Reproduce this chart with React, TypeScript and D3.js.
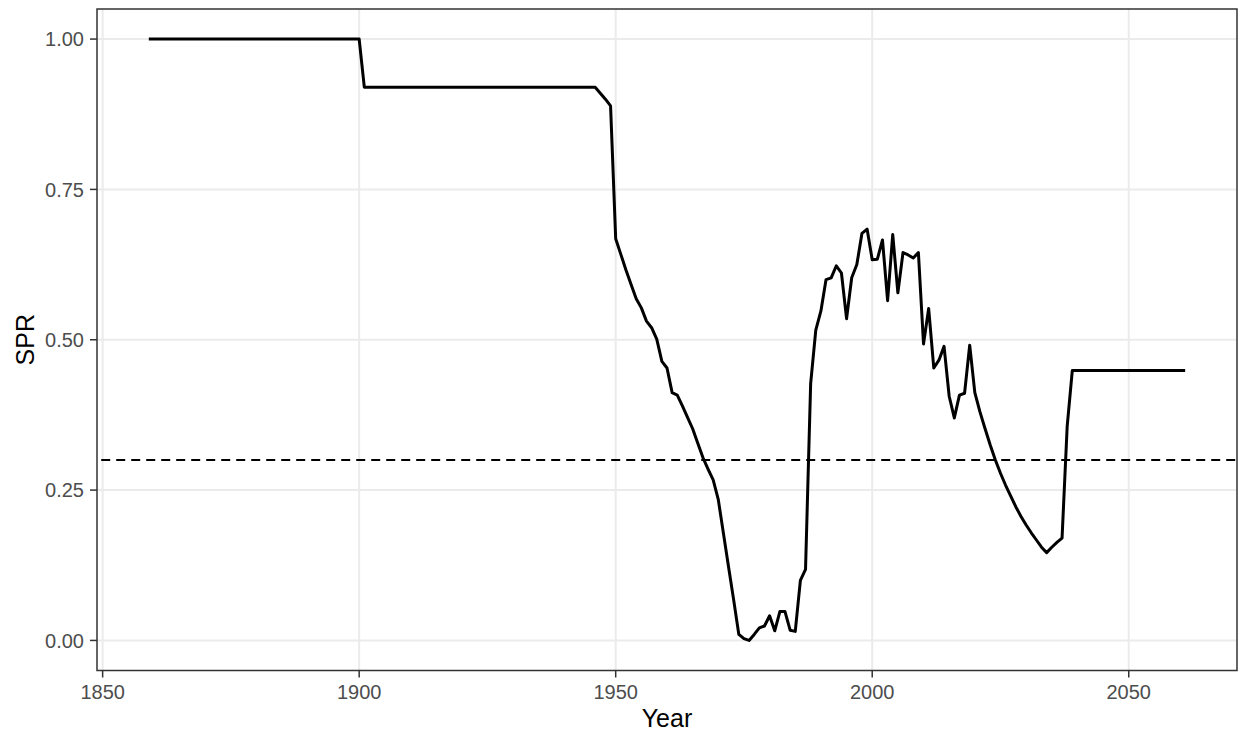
import React from "react";
import * as d3 from "d3";

// ---- data ----
const startYear = 1859;
const spr: number[] = [
  // 1859-1900
  1, 1, 1, 1, 1, 1, 1, 1, 1, 1,
  1, 1, 1, 1, 1, 1, 1, 1, 1, 1,
  1, 1, 1, 1, 1, 1, 1, 1, 1, 1,
  1, 1, 1, 1, 1, 1, 1, 1, 1, 1,
  1, 1,
  // 1901-1946
  0.92, 0.92, 0.92, 0.92, 0.92, 0.92, 0.92, 0.92, 0.92, 0.92,
  0.92, 0.92, 0.92, 0.92, 0.92, 0.92, 0.92, 0.92, 0.92, 0.92,
  0.92, 0.92, 0.92, 0.92, 0.92, 0.92, 0.92, 0.92, 0.92, 0.92,
  0.92, 0.92, 0.92, 0.92, 0.92, 0.92, 0.92, 0.92, 0.92, 0.92,
  0.92, 0.92, 0.92, 0.92, 0.92, 0.92,
  // 1947-1960
  0.91, 0.9, 0.889, 0.668, 0.642, 0.616, 0.592, 0.568, 0.553, 0.531,
  0.52, 0.501, 0.464, 0.453,
  // 1961-1980
  0.412, 0.408, 0.39, 0.371, 0.352, 0.328, 0.304, 0.285, 0.267, 0.234,
  0.178, 0.122, 0.067, 0.01, 0.003, 0.0, 0.01, 0.021, 0.024, 0.041,
  // 1981-2000
  0.016, 0.048, 0.048, 0.017, 0.015, 0.1, 0.118, 0.427, 0.516, 0.548,
  0.6, 0.603, 0.623, 0.611, 0.535, 0.603, 0.625, 0.677, 0.684, 0.633,
  // 2001-2020
  0.634, 0.666, 0.565, 0.675, 0.578, 0.645, 0.641, 0.636, 0.645, 0.493,
  0.552, 0.453, 0.466, 0.489, 0.406, 0.37, 0.408, 0.411, 0.491, 0.412,
  // 2021-2039
  0.38, 0.352, 0.325, 0.3, 0.278, 0.258, 0.24, 0.222, 0.206, 0.192,
  0.179, 0.167, 0.155, 0.146, 0.155, 0.163, 0.17, 0.356, 0.449,
  // 2040-2061
  0.449, 0.449, 0.449, 0.449, 0.449, 0.449, 0.449, 0.449, 0.449, 0.449,
  0.449, 0.449, 0.449, 0.449, 0.449, 0.449, 0.449, 0.449, 0.449, 0.449,
  0.449, 0.449,
];
const refLevel = 0.3;
const xTicks = [1850, 1900, 1950, 2000, 2050];
const yTicks = [0, 0.25, 0.5, 0.75, 1.0];
const xTitle = "Year";
const yTitle = "SPR";

const W = 1238;
const H = 734;
const panel = { left: 97, right: 1237, top: 9, bottom: 670.5 };

export default function App() {
  const data = spr.map((v, i) => ({ year: startYear + i, v }));
  const [x0, x1] = d3.extent(data, (d) => d.year) as [number, number];
  const [y0, y1] = d3.extent(data, (d) => d.v) as [number, number];
  const xPad = (x1 - x0) * 0.05;
  const yPad = (y1 - y0) * 0.05;
  const x = d3.scaleLinear().domain([x0 - xPad, x1 + xPad]).range([panel.left, panel.right]);
  const y = d3.scaleLinear().domain([y0 - yPad, y1 + yPad]).range([panel.bottom, panel.top]);
  const line = d3
    .line<{ year: number; v: number }>()
    .x((d) => x(d.year))
    .y((d) => y(d.v));

  const tickColor = "#333333";
  const labelColor = "#4D4D4D";
  const font = "'Liberation Sans', Arial, Helvetica, sans-serif";

  return (
    <svg
      width={W}
      height={H}
      style={{ position: "absolute", left: 0, top: 0, background: "#fff" }}
      fontFamily={font}
    >
      <rect x={0} y={0} width={W} height={H} fill="#fff" />
      {/* grid */}
      {yTicks.map((t) => (
        <line key={"gy" + t} x1={panel.left} x2={panel.right} y1={y(t)} y2={y(t)} stroke="#EBEBEB" strokeWidth={2} />
      ))}
      {xTicks.map((t) => (
        <line key={"gx" + t} x1={x(t)} x2={x(t)} y1={panel.top} y2={panel.bottom} stroke="#EBEBEB" strokeWidth={2} />
      ))}
      {/* reference line */}
      <line
        x1={panel.left}
        x2={panel.right}
        y1={y(refLevel)}
        y2={y(refLevel)}
        stroke="#000"
        strokeWidth={2.2}
        strokeDasharray="9,6"
        strokeDashoffset={10.8}
      />
      {/* data line */}
      <path d={line(data) || ""} fill="none" stroke="#000" strokeWidth={3} strokeLinejoin="round" />
      {/* panel border */}
      <rect
        x={panel.left}
        y={panel.top}
        width={panel.right - panel.left}
        height={panel.bottom - panel.top}
        fill="none"
        stroke={tickColor}
        strokeWidth={1.5}
      />
      {/* y axis */}
      {yTicks.map((t) => (
        <g key={"yt" + t}>
          <line x1={panel.left - 7} x2={panel.left} y1={y(t)} y2={y(t)} stroke={tickColor} strokeWidth={1.5} />
          <text x={84} y={y(t)} dy="0.36em" textAnchor="end" fontSize={20} fill={labelColor}>
            {t.toFixed(2)}
          </text>
        </g>
      ))}
      {/* x axis */}
      {xTicks.map((t) => (
        <g key={"xt" + t}>
          <line x1={x(t)} x2={x(t)} y1={panel.bottom} y2={panel.bottom + 7} stroke={tickColor} strokeWidth={1.5} />
          <text x={x(t)} y={699} textAnchor="middle" fontSize={20} fill={labelColor}>
            {t}
          </text>
        </g>
      ))}
      <text x={(panel.left + panel.right) / 2} y={727} textAnchor="middle" fontSize={25} fill="#000">
        {xTitle}
      </text>
      <text
        transform={`translate(${34},${(panel.top + panel.bottom) / 2}) rotate(-90)`}
        textAnchor="middle"
        fontSize={25}
        fill="#000"
      >
        {yTitle}
      </text>
    </svg>
  );
}
